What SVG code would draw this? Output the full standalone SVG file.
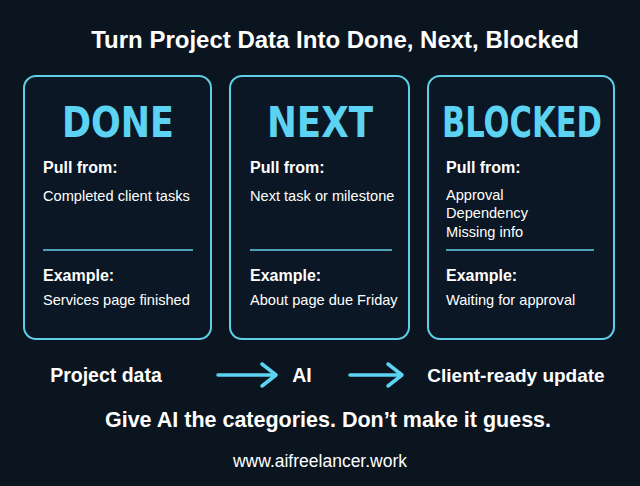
<svg xmlns="http://www.w3.org/2000/svg" width="640" height="486" viewBox="0 0 640 486">
<style>
.box{fill:#0b1724;stroke:#5fcfe8;stroke-width:2}
.t{font-family:"Liberation Sans",Arial,sans-serif;fill:#fff}
.big{font-family:"DejaVu Sans Condensed","Liberation Sans",sans-serif;font-weight:bold;font-size:42px;fill:#5dd3f3;text-anchor:middle}
.h{font-weight:bold;font-size:16px}
.b{font-size:14.6px}
.sep{stroke:#5fcfe8;stroke-width:1.5}
.arr{stroke:#5dd3f3;stroke-width:3.5;fill:none;stroke-linecap:round;stroke-linejoin:round}
</style>
<rect width="640" height="486" fill="#0b1520"/>
<text class="t" x="335" y="48" font-size="24" font-weight="bold" text-anchor="middle">Turn Project Data Into Done, Next, Blocked</text>
<g id="done">
<rect class="box" x="24" y="76" width="187" height="263" rx="12"/>
<text class="big" x="118" y="137" textLength="112" lengthAdjust="spacingAndGlyphs">DONE</text>
<text class="t h" x="43" y="173">Pull from:</text>
<text class="t b" x="43" y="201">Completed client tasks</text>
<line class="sep" x1="43" y1="250" x2="193" y2="250"/>
<text class="t h" x="43" y="281">Example:</text>
<text class="t b" x="43" y="305">Services page finished</text>
</g>
<g id="next">
<rect class="box" x="230" y="76" width="179" height="263" rx="12"/>
<text class="big" x="320" y="137" textLength="106" lengthAdjust="spacingAndGlyphs">NEXT</text>
<text class="t h" x="250" y="173">Pull from:</text>
<text class="t b" x="250" y="201">Next task or milestone</text>
<line class="sep" x1="250" y1="250" x2="392" y2="250"/>
<text class="t h" x="250" y="281">Example:</text>
<text class="t b" x="250" y="305">About page due Friday</text>
</g>
<g id="blocked">
<rect class="box" x="428" y="76" width="186" height="263" rx="12"/>
<text class="big" x="522" y="137" textLength="160" lengthAdjust="spacingAndGlyphs">BLOCKED</text>
<text class="t h" x="446" y="173">Pull from:</text>
<text class="t b" x="446" y="200">Approval</text>
<text class="t b" x="446" y="218">Dependency</text>
<text class="t b" x="446" y="237">Missing info</text>
<line class="sep" x1="446" y1="250" x2="594" y2="250"/>
<text class="t h" x="446" y="281">Example:</text>
<text class="t b" x="446" y="305">Waiting for approval</text>
</g>
<g id="flow-labels">
<text class="t" x="106" y="382" font-size="19.5" font-weight="bold" text-anchor="middle">Project data</text>
<text class="t" x="302" y="382" font-size="19.5" font-weight="bold" text-anchor="middle">AI</text>
<text class="t" x="516" y="382" font-size="19" font-weight="bold" text-anchor="middle">Client-ready update</text>
</g>
<g id="connectors">
<path class="arr" d="M218 375H276M262 364L276 375L262 386"/>
<path class="arr" d="M350 375H402M388 364L402 375L388 386"/>
</g>
<text class="t" x="328" y="427" font-size="21.5" font-weight="bold" text-anchor="middle">Give AI the categories. Don’t make it guess.</text>
<text class="t" x="320" y="467" font-size="17.5" text-anchor="middle">www.aifreelancer.work</text>
</svg>
